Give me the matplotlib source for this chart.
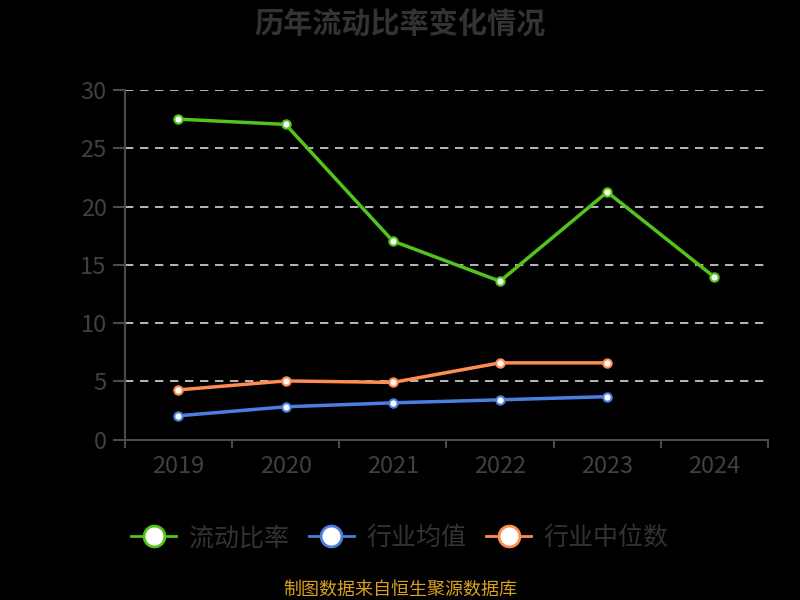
import matplotlib
matplotlib.use("Agg")
import matplotlib.pyplot as plt
from matplotlib.lines import Line2D

plt.rcParams["font.family"] = ["Noto Sans CJK SC", "DejaVu Sans"]

years = ["2019", "2020", "2021", "2022", "2023", "2024"]
current_ratio = [27.5, 27.05, 17.05, 13.6, 21.25, 13.95]
industry_mean = [2.06, 2.83, 3.17, 3.43, 3.7]
industry_median = [4.28, 5.05, 4.92, 6.6, 6.6]
series_names = ["流动比率", "行业均值", "行业中位数"]
y_ticks = [0, 5, 10, 15, 20, 25, 30]

colors = ["#52c41a", "#4a7fe0", "#ff8c50"]
text_color = "#333333"
axis_color = "#4a4a4a"

fig = plt.figure(figsize=(8, 6), dpi=100, facecolor="black")
ax = fig.add_axes([0.156, 0.267, 0.804, 0.583], facecolor="black")

x_all = list(range(len(years)))
for vals, c in zip([current_ratio, industry_mean, industry_median], colors):
    xs = x_all[:len(vals)]
    ax.plot(xs, vals, color=c, linewidth=2.5, zorder=3,
            marker="o", markersize=6, markerfacecolor="white",
            markeredgecolor=c, markeredgewidth=1.5)

ax.set_xlim(-0.5, len(years) - 0.5)
ax.set_ylim(0, 30)
ax.set_yticks(y_ticks)
ax.set_yticklabels([str(v) for v in y_ticks], color="#404040", fontsize=17)
for v in y_ticks[1:]:
    ax.axhline(v, color="#d8d8d8", linewidth=1.2, linestyle=(0, (5, 4)), zorder=1)

ax.set_xticks([i - 0.5 for i in range(len(years) + 1)])
ax.set_xticklabels([])
ax.set_xticks(x_all, minor=True)
ax.set_xticklabels(years, minor=True, color="#404040", fontsize=17)
ax.tick_params(axis="x", which="minor", length=0, pad=11)
ax.tick_params(axis="x", which="major", length=6, color=axis_color, width=1.5)
ax.tick_params(axis="y", length=9, color=axis_color, width=1.5, pad=4)

for side in ["top", "right"]:
    ax.spines[side].set_visible(False)
for side in ["left", "bottom"]:
    ax.spines[side].set_color(axis_color)
    ax.spines[side].set_linewidth(1.5)

fig.text(0.5, 0.96, "历年流动比率变化情况", ha="center", va="center",
         fontsize=21, fontweight="bold", color=text_color)

handles = [Line2D([0], [0], color=c, linewidth=2, marker="o", markersize=15,
                  markerfacecolor="white", markeredgecolor=c, markeredgewidth=2)
           for c in colors]
fig.legend(handles, series_names, loc="center", bbox_to_anchor=(0.5, 0.103),
           ncol=3, frameon=False, fontsize=18, labelcolor=text_color,
           handlelength=1.8, columnspacing=0.8, handletextpad=0.5)

fig.text(0.5, 0.017, "制图数据来自恒生聚源数据库", ha="center", va="center",
         fontsize=13, color="#d9a020")

fig.savefig("out.png", dpi=100, facecolor="black")
